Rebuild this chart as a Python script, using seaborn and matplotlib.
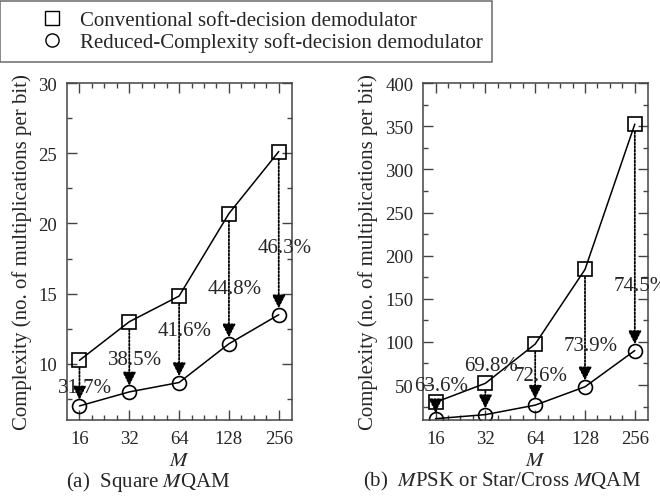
import numpy as np
import pandas as pd
import seaborn as sns
import matplotlib.pyplot as plt
from matplotlib.ticker import FixedLocator, NullFormatter
from matplotlib.lines import Line2D

# modulation order
m_values = [16, 32, 64, 128, 256]

# (a) square MQAM
qam_conventional = [10.25, 13.0, 14.83, 20.71, 25.125]
qam_reduced = [7.0, 8.0, 8.67, 11.43, 13.5]
qam_labels = ["31.7%", "38.5%", "41.6%", "44.8%", "46.3%"]
qam_label_y = [8.3, 10.3, 12.4, 15.35, 18.3]

# (b) MPSK or star/cross MQAM
psk_conventional = [30.0, 52.0, 97.5, 184.0, 352.5]
psk_reduced = [11.0, 15.7, 26.7, 48.0, 90.0]
psk_labels = ["63.6%", "69.8%", "72.6%", "73.9%", "74.5%"]
psk_label_y = [49, 73, 61, 95.5, 165]

sns.set_theme(style="ticks")
plt.rcParams["font.family"] = ["Liberation Serif", "DejaVu Serif"]
plt.rcParams["mathtext.fontset"] = "stix"

FRAME = "#444444"


def draw_panel(ax, conv, red, labels, label_y, ylim, major, minor, caption, cap_x):
    df = pd.DataFrame({"M": m_values, "conv": conv, "red": red})
    sns.lineplot(data=df, x="M", y="conv", ax=ax, color="black", lw=1.1,
                 marker="s", markersize=10.5, markerfacecolor="none",
                 markeredgecolor="black", markeredgewidth=1.2)
    sns.lineplot(data=df, x="M", y="red", ax=ax, color="black", lw=1.1,
                 marker="o", markersize=10, markerfacecolor="none",
                 markeredgecolor="black", markeredgewidth=1.2)

    # dotted reduction arrows from conventional to reduced complexity
    for m, c, r, lab, ly in zip(m_values, conv, red, labels, label_y):
        ax.annotate("", xy=(m, r), xytext=(m, c),
                    arrowprops=dict(arrowstyle="-|>", ls=(0, (1, 1)), lw=1.3,
                                    color="black", shrinkA=5.5, shrinkB=4.5,
                                    mutation_scale=20))
        ax.annotate(lab, xy=(m, ly), xytext=(4, 0), textcoords="offset points",
                    ha="center", va="center", fontsize=15, annotation_clip=False)

    ax.set_xscale("log", base=2)
    ax.set_xlim(13.45, 308)
    ax.set_xticks(m_values)
    ax.set_xticklabels([str(m) for m in m_values])
    ax.xaxis.set_minor_locator(FixedLocator(
        [2 ** (4 + k / 4) for k in range(17) if k % 4]))
    ax.xaxis.set_minor_formatter(NullFormatter())

    ax.set_ylim(*ylim)
    ax.set_yticks(major)
    ax.yaxis.set_minor_locator(FixedLocator(minor))

    ax.tick_params(which="both", direction="in", top=True, right=True,
                   color=FRAME, labelsize=13.5, pad=7)
    ax.tick_params(which="major", length=7, width=1)
    ax.tick_params(which="minor", length=3.6, width=1)
    for s in ax.spines.values():
        s.set_color(FRAME)
        s.set_linewidth(1.1)

    ax.set_xlabel("$M$", fontsize=15, labelpad=3)
    ax.set_ylabel("Complexity (no. of multiplications per bit)", fontsize=15,
                  labelpad=5)
    ax.text(cap_x, -0.181, caption, transform=ax.transAxes, ha="center", va="center",
            fontsize=15)


fig = plt.figure(figsize=(6.6, 5.02), dpi=100)
ax1 = fig.add_axes([0.1015, 0.1614, 0.341, 0.671])
ax2 = fig.add_axes([0.641, 0.1614, 0.341, 0.671])

draw_panel(ax1, qam_conventional, qam_reduced, qam_labels, qam_label_y,
           (6, 30), [10, 15, 20, 25, 30], [7.5, 12.5, 17.5, 22.5, 27.5],
           "(a)  Square $M$QAM", 0.36)
draw_panel(ax2, psk_conventional, psk_reduced, psk_labels, psk_label_y,
           (9.5, 400), [50, 100, 150, 200, 250, 300, 350, 400],
           [25, 75, 125, 175, 225, 275, 325, 375],
           "(b)  $M$PSK or Star/Cross $M$QAM", 0.35)

handles = [
    Line2D([], [], ls="none", marker="s", markersize=9.5, markerfacecolor="none",
           markeredgecolor="black", markeredgewidth=1),
    Line2D([], [], ls="none", marker="o", markersize=9.5, markerfacecolor="none",
           markeredgecolor="black", markeredgewidth=1),
]
leg = fig.legend(handles, ["Conventional soft-decision demodulator",
                           "Reduced-Complexity soft-decision demodulator"],
                 loc="upper left", bbox_to_anchor=(0.0, 0.996), fontsize=15,
                 frameon=True, fancybox=False, edgecolor=FRAME, borderpad=0.45,
                 handlelength=4.1, handletextpad=-0.7, labelspacing=0.12,
                 borderaxespad=0, numpoints=1)
leg.get_frame().set_linewidth(1.1)

fig.savefig("out.png", dpi=100)
